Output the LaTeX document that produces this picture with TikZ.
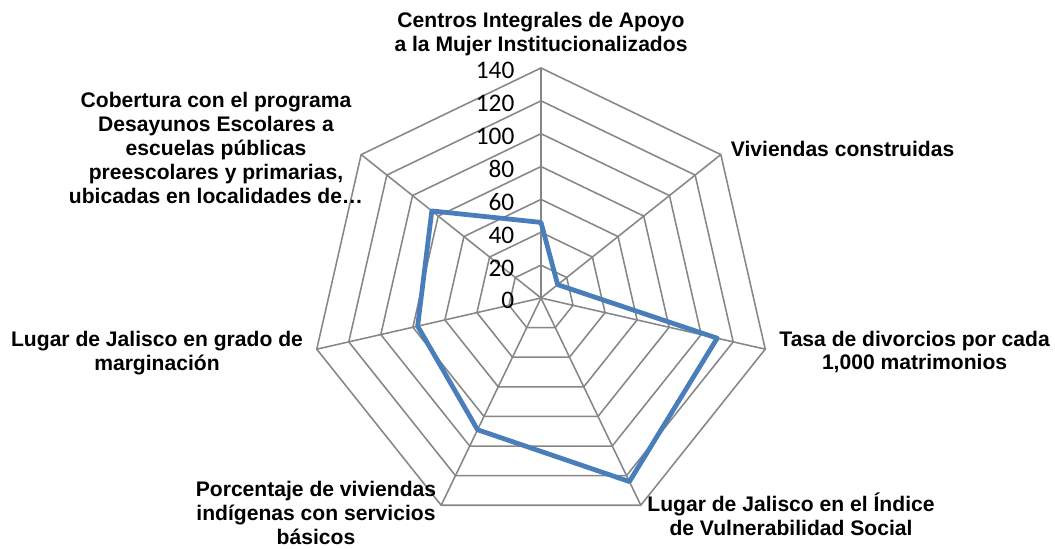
\documentclass[tikz,border=0pt]{standalone}
\usepackage{fontspec}
\setmainfont{Liberation Sans}
\newfontfamily\tickfont{Carlito}
\definecolor{gridgray}{HTML}{868686}
\definecolor{serieblue}{HTML}{4A7EBB}
\begin{document}
\begin{tikzpicture}[x=0.041071cm, y=0.041071cm,
		grid/.style = {draw=gridgray, line width=1.1pt},
		serie/.style = {draw=serieblue, line width=3.4pt, line join=round},
		ticklbl/.style = {anchor=east, inner sep=0pt, font=\tickfont\fontsize{18}{18}\selectfont},
		axislbl/.style = {align=center, inner sep=0pt, font=\fontsize{15}{17}\selectfont\bfseries}]
	\useasboundingbox (-13.525cm,-6.25cm) rectangle (12.85cm,7.45cm);
	\foreach \r in {20,40,...,140}
		\draw[grid] (90:\r) \foreach \i in {1,...,6} { -- ({90-360/7*\i}:\r) } -- cycle;
	\foreach \i in {0,...,6}
		\draw[grid] (0,0) -- ({90-360/7*\i}:140);
	\foreach \r in {0,20,...,140}
		\node[ticklbl, yshift=-2pt] (t\r) at (-0.66cm,\r) {\r};
	\foreach \v [count=\i from 0] in {46,13,110,124,89,77,85}
		\coordinate (p\i) at ({90-360/7*\i}:\v);
	\draw[serie] (p0) -- (p1) -- (p2) -- (p3) -- (p4) -- (p5) -- (p6) -- cycle;
	\node[axislbl] (centros) at (0cm,6.59cm) {Centros Integrales de Apoyo\\a la Mujer Institucionalizados};
	\node[axislbl] (viviendas) at (7.54cm,3.725cm) {Viviendas construidas};
	\node[axislbl] (divorcios) at (9.34cm,-1.35cm) {Tasa de divorcios por cada\\1,000 matrimonios};
	\node[axislbl] (indice) at (6.25cm,-5.4cm) {Lugar de Jalisco en el Índice\\de Vulnerabilidad Social};
	\node[axislbl] (indigenas) at (-5.625cm,-5.38cm) {Porcentaje de viviendas\\indígenas con servicios\\básicos};
	\node[axislbl] (marginacion) at (-9.6cm,-1.375cm) {Lugar de Jalisco en grado de\\marginación};
	\node[axislbl] (desayunos) at (-8.125cm,3.75cm) {Cobertura con el programa\\Desayunos Escolares a\\escuelas públicas\\preescolares y primarias,\\ubicadas en localidades de…};
\end{tikzpicture}
\end{document}
